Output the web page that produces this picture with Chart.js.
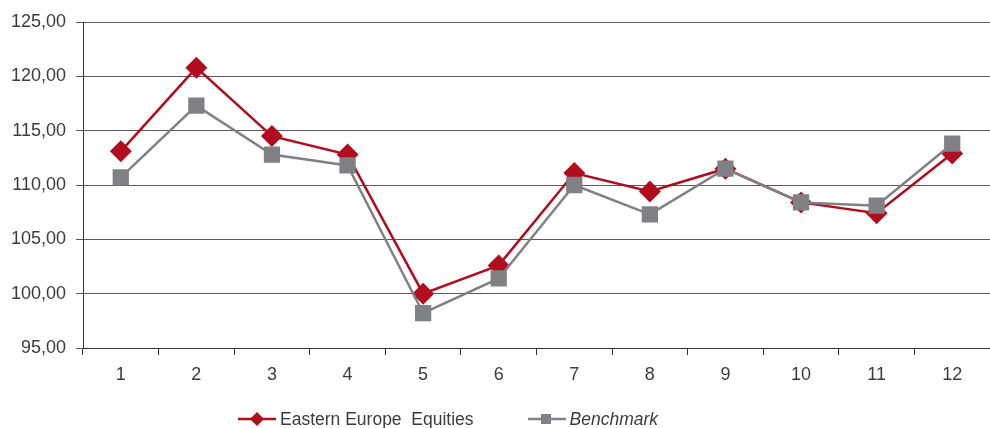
<!DOCTYPE html>
<html>
<head>
<meta charset="utf-8">
<script src="https://cdn.jsdelivr.net/npm/chart.js@4/dist/chart.umd.min.js"></script>
<style>
  html, body { margin: 0; padding: 0; background: #fff; }
  #wrap { position: relative; width: 990px; height: 428px; }
  #legend { position: absolute; left: 238px; top: 408px; height: 22px;
    display: flex; justify-content: flex-start; align-items: center;
    font-family: "Liberation Sans", Arial, sans-serif; font-size: 17.5px; color: #3c3c3c; }
  .item { display: flex; align-items: center; margin-right: 54px; }
  .item svg { margin-right: 4px; }
</style>
</head>
<body>
<div id="wrap">
  <canvas id="c" width="990" height="428"></canvas>
  <div id="legend"></div>
</div>
<script>
const categories = ["1","2","3","4","5","6","7","8","9","10","11","12"];
const equitiesLabel = "Eastern Europe  Equities";
const benchmarkLabel = "Benchmark";
const equitiesValues = [113.1, 120.8, 114.5, 112.8, 100.0, 102.6, 111.1, 109.4, 111.5, 108.4, 107.4, 112.9];
const benchmarkValues = [110.7, 117.3, 112.8, 111.8, 98.2, 101.4, 110.0, 107.3, 111.5, 108.4, 108.1, 113.8];
const yTicks = [95, 100, 105, 110, 115, 120, 125];

const RED = "#b20d1e";
const GRAY = "#808184";
const FONT = { family: "'Liberation Sans', Arial, sans-serif", size: 18 };

const chart = new Chart(document.getElementById("c"), {
  type: "line",
  data: {
    labels: categories,
    datasets: [
      {
        label: equitiesLabel,
        data: equitiesValues,
        borderColor: RED,
        backgroundColor: RED,
        borderWidth: 2.5,
        pointStyle: "rectRot",
        pointRadius: 11,
        pointHoverRadius: 11,
        pointBorderWidth: 0,
        tension: 0,
        order: 2
      },
      {
        label: benchmarkLabel,
        data: benchmarkValues,
        borderColor: GRAY,
        backgroundColor: GRAY,
        borderWidth: 2.5,
        pointStyle: "rect",
        pointRadius: 11.5,
        pointHoverRadius: 11.5,
        pointBorderWidth: 0,
        tension: 0,
        order: 1
      }
    ]
  },
  options: {
    responsive: false,
    animation: false,
    devicePixelRatio: 1,
    layout: { autoPadding: false, padding: { top: 22, right: 0, left: 0, bottom: 40 } },
    plugins: {
      legend: { display: false },
      tooltip: { enabled: false }
    },
    scales: {
      x: {
        offset: true,
        grid: { offset: true, drawOnChartArea: false, drawTicks: true, tickLength: 7, color: "#333", lineWidth: 1 },
        border: { display: true, color: "#333", width: 1 },
        ticks: { font: FONT, color: "#3c3c3c", padding: 9, maxRotation: 0 },
        afterFit: (s) => { s.height = 40; s.paddingLeft = 0; s.paddingRight = 0; }
      },
      y: {
        min: 95,
        max: 125,
        afterBuildTicks: (s) => { s.ticks = yTicks.map(v => ({ value: v })); },
        grid: { color: "#5a5a5a", lineWidth: 1, drawTicks: true, tickLength: 7 },
        border: { display: true, color: "#333", width: 1 },
        ticks: {
          font: FONT, color: "#3c3c3c", padding: 10,
          callback: (v) => Number(v).toFixed(2).replace(".", ",")
        },
        afterFit: (s) => { s.width = 83; }
      }
    }
  }
});

// HTML legend built from the chart's datasets
const legend = document.getElementById("legend");
[0, 1].forEach(i => {
  const ds = chart.data.datasets[i];
  const item = document.createElement("div");
  item.className = "item";
  const marker = ds.pointStyle === "rectRot"
    ? `<polygon points="19,0 26,7 19,14 12,7" fill="${ds.borderColor}"/>`
    : `<rect x="13" y="2" width="10" height="10" fill="${ds.borderColor}"/>`;
  item.innerHTML = `<svg width="38" height="14" viewBox="0 0 38 14"><line x1="0" y1="7" x2="38" y2="7" stroke="${ds.borderColor}" stroke-width="2.5"/>${marker}</svg>`;
  const span = document.createElement("span");
  span.textContent = ds.label;
  span.style.whiteSpace = "pre";
  if (i === 1) span.style.fontStyle = "italic";
  item.appendChild(span);
  legend.appendChild(item);
});
</script>
</body>
</html>
